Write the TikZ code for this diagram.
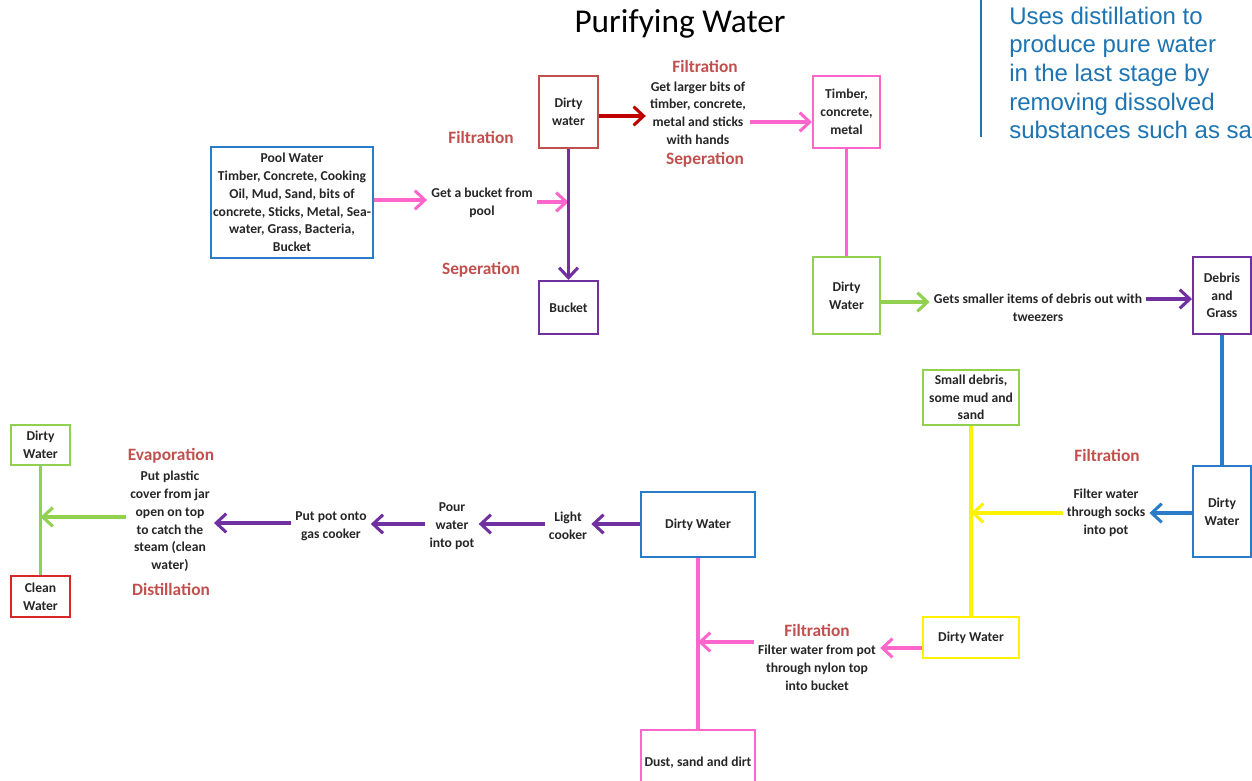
\documentclass[tikz,border=0pt]{standalone}
\usepackage{fontspec}
\setmainfont{Carlito}
\newfontfamily\notefont{Liberation Sans}
\usepackage{xcolor}
\usetikzlibrary{arrows.meta}
\definecolor{boxblue}{HTML}{2B7CC8}
\definecolor{noteblue}{HTML}{1D74B2}
\definecolor{stagered}{HTML}{C0504D}
\definecolor{darkred}{HTML}{C00000}
\definecolor{cleanred}{HTML}{D92626}
\definecolor{pink}{HTML}{FF66CC}
\definecolor{violet}{HTML}{7030A0}
\definecolor{lime}{HTML}{92D050}
\definecolor{lemon}{HTML}{FFF200}
\definecolor{ink}{HTML}{262626}
\tikzset{
  box/.style={draw,line width=1.5pt,align=center,inner sep=1pt,text=ink,font=\bfseries\fontsize{10.2}{13.3}\selectfont},
  note/.style={align=center,inner sep=3pt,text=ink,font=\bfseries\fontsize{10.2}{13.3}\selectfont},
  stage/.style={inner sep=1pt,text=stagered,font=\bfseries\fontsize{13}{15}\selectfont},
  flow/.style={-{Straight Barb[length=7.5pt,width=14pt]},line width=2.3pt},
  link/.style={line width=2.3pt}
}

\begin{document}
\begin{tikzpicture}[x=0.75pt,y=-0.75pt]
\clip (0,0) rectangle (1252,781);
\node[font=\fontsize{25}{28}\selectfont] (title) at (680,24) {Purifying Water};
\draw[noteblue,line width=1.6pt] (981,0) -- (981,137);
\node[anchor=west,align=left,inner sep=0pt,text=noteblue,font=\notefont\fontsize{18}{21.5}\selectfont] (note) at (1009,73) {Uses distillation to\\produce pure water\\in the last stage by\\removing dissolved\\substances such as sa};

% top row
\node[box,draw=boxblue,minimum width=121.5pt,minimum height=83.25pt] (pool) at (292,202.5) {Pool Water\\Timber, Concrete, Cooking\\Oil, Mud, Sand, bits of\\concrete, Sticks, Metal, Sea-\\water, Grass, Bacteria,\\Bucket};
\node[note] (step1) at (482,203) {Get a bucket from\\pool};
\node[stage] (filt1) at (481,137) {Filtration};
\node[stage] (sep1) at (481,270) {Seperation};
\node[box,draw=stagered,minimum width=44.25pt,minimum height=54pt] (dw1) at (568.5,112) {Dirty\\water};
\node[box,draw=violet,minimum width=44.25pt,minimum height=39.75pt] (bucket) at (568.5,307.5) {Bucket};
\node[stage] (filt2) at (705,66) {Filtration};
\node[note] (step2) at (698,113) {Get larger bits of\\timber, concrete,\\metal and sticks\\with hands};
\node[stage] (sep2) at (705,160) {Seperation};
\node[box,draw=pink,minimum width=50.25pt,minimum height=54pt] (timber) at (846.5,112) {Timber,\\concrete,\\metal};

\draw[flow,pink] (pool.east |- 0,200) -- (step1.west |- 0,200);
\draw[flow,pink] (step1.east |- 0,202) -- (dw1.south |- 0,202);
\draw[flow,violet] (dw1.south) -- (bucket.north);
\draw[flow,darkred] (dw1.east |- 0,116) -- (step2.west |- 0,116);
\draw[flow,pink] (step2.east |- 0,122) -- (timber.west |- 0,122);

% right column
\node[box,draw=lime,minimum width=50.25pt,minimum height=57.75pt] (dw2) at (846.5,295.5) {Dirty\\Water};
\node[note] (step3) at (1038,308) {Gets smaller items of debris out with\\tweezers};
\node[box,draw=violet,minimum width=43.5pt,minimum height=57.75pt] (debris) at (1222,295.5) {Debris\\and\\Grass};
\node[box,draw=boxblue,minimum width=43.5pt,minimum height=68.25pt] (dw3) at (1222,511.5) {Dirty\\Water};
\node[stage] (filt3) at (1107,455) {Filtration};
\node[note] (step4) at (1106,513) {Filter water\\through socks\\into pot};
\node[box,draw=lime,minimum width=72pt,minimum height=41.25pt] (small) at (971,397.5) {Small debris,\\some mud and\\sand};
\node[box,draw=lemon,minimum width=72pt,minimum height=30.75pt] (dw4) at (971,637.5) {Dirty Water};

\draw[link,pink] (timber.south) -- (dw2.north);
\draw[flow,lime] (dw2.east |- 0,302) -- (step3.west |- 0,302);
\draw[flow,violet] (step3.east |- 0,299) -- (debris.west |- 0,299);
\draw[link,boxblue] (debris.south) -- (dw3.north);
\draw[flow,boxblue] (dw3.west |- 0,513) -- (step4.east |- 0,513);
\draw[link,lemon] (small.south) -- (dw4.north);
\draw[flow,lemon] (step4.west |- 0,513) -- (small.south |- 0,513);

% bottom row
\node[stage] (filt4) at (817,630) {Filtration};
\node[note] (step5) at (817,668) {Filter water from pot\\through nylon top\\into bucket};
\node[box,draw=boxblue,minimum width=85.5pt,minimum height=48.75pt] (dw5) at (698,524.5) {Dirty Water};
\node[box,draw=pink,minimum width=85.5pt,minimum height=48.75pt] (dust) at (698,762.5) {Dust, sand and dirt};
\node[note] (step6) at (568,526) {Light\\cooker};
\node[note] (step7) at (452,526) {Pour\\water\\into pot};
\node[note] (step8) at (331,526) {Put pot onto\\gas cooker};
\node[stage] (evap) at (171,456) {Evaporation};
\node[note] (step9) at (170,521.5) {Put plastic\\cover from jar\\open on top\\to catch the\\steam (clean\\water)};
\node[stage] (dist) at (171,589) {Distillation};
\node[box,draw=lime,minimum width=44.25pt,minimum height=30pt] (dw6) at (40.5,445) {Dirty\\Water};
\node[box,draw=cleanred,minimum width=44.25pt,minimum height=30.75pt] (clean) at (40.5,596.5) {Clean\\Water};

\draw[flow,pink] (dw4.west |- 0,648) -- (step5.east |- 0,648);
\draw[link,pink] (dw5.south) -- (dust.north);
\draw[flow,pink] (step5.west |- 0,642) -- (dw5.south |- 0,642);
\draw[flow,violet] (dw5.west |- 0,524) -- (step6.east |- 0,524);
\draw[flow,violet] (step6.west |- 0,524) -- (step7.east |- 0,524);
\draw[flow,violet] (step7.west |- 0,524) -- (step8.east |- 0,524);
\draw[flow,violet] (step8.west |- 0,523) -- (step9.east |- 0,523);
\draw[link,lime] (dw6.south) -- (clean.north);
\draw[flow,lime] (step9.west |- 0,517) -- (dw6.south |- 0,517);
\end{tikzpicture}
\end{document}
